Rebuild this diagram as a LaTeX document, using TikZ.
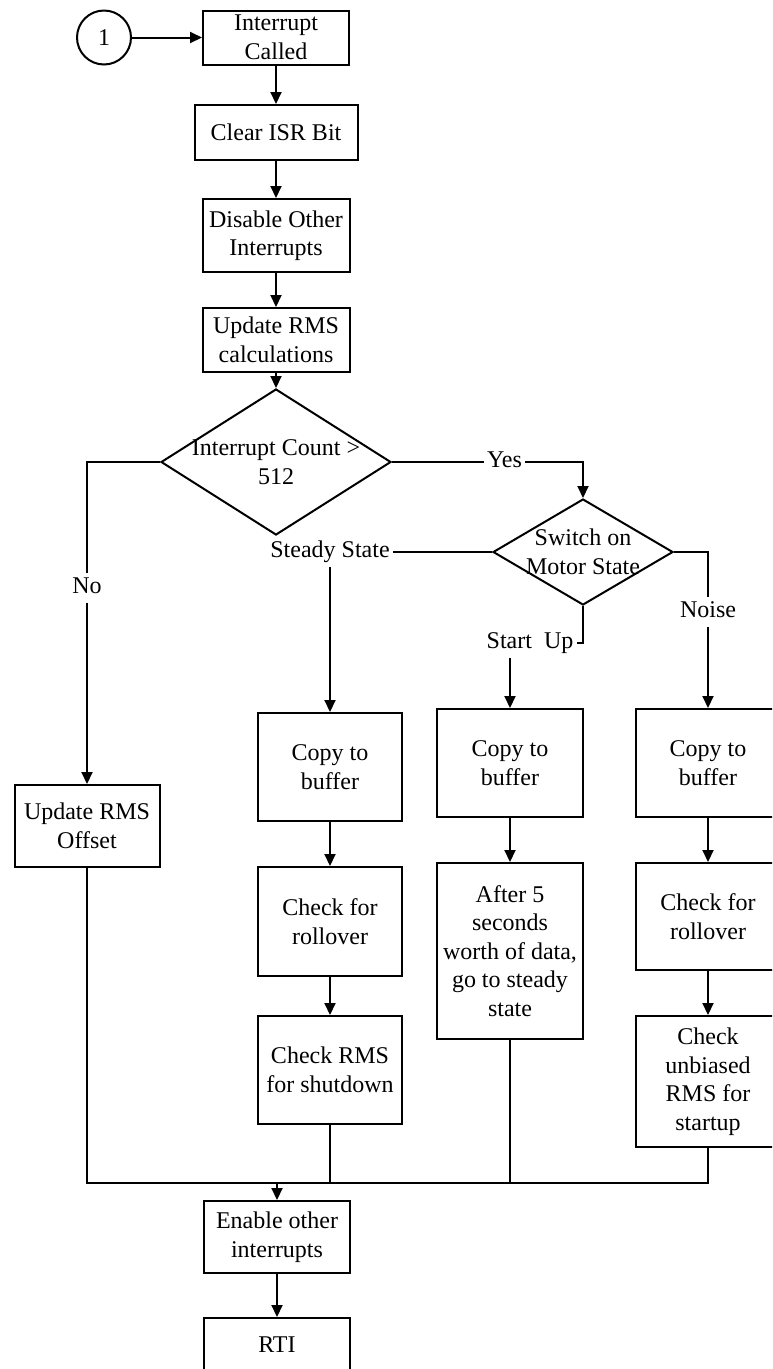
\documentclass[tikz,border=0pt]{standalone}
\usepackage{fontspec}
\setmainfont{Liberation Serif}
\usetikzlibrary{shapes.geometric,arrows.meta}
\begin{document}
\begin{tikzpicture}[x=1pt,y=-1pt,
  every node/.style={font=\fontsize{24}{28.5}\selectfont, text=black},
  box/.style={draw, line width=2pt, align=center, inner sep=0pt},
  dia/.style={draw, diamond, line width=2pt, inner sep=0pt},
  txt/.style={align=center, inner sep=0pt},
  lbl/.style={inner xsep=3pt, inner ysep=4pt, text height=16pt, text depth=5pt},
  conn/.style={line width=2pt},
  arr/.style={conn, -{Triangle[length=12pt,width=11pt]}},
]
\useasboundingbox (0,0) rectangle (772,1369);
\clip (0,0) rectangle (772,1369);
\fill[white] (0,0) rectangle (772,1369);

% main trunk
\node[draw, circle, line width=2pt, minimum size=54pt, inner sep=0pt] (c1) at (104,37.5) {1};
\node[box, minimum width=146pt, minimum height=54pt] (n1) at (276,37.5) {Interrupt\\Called};
\node[box, minimum width=163pt, minimum height=55pt] (n2) at (276,132.5) {Clear ISR Bit};
\node[box, minimum width=147pt, minimum height=73pt] (n3) at (276,235.5) {Disable Other\\Interrupts};
\node[box, minimum width=147pt, minimum height=64pt] (n4) at (276,340) {Update RMS\\calculations};

% decisions
\node[dia, minimum width=230pt, minimum height=146pt] (d1) at (276,462) {};
\node[txt] (d1t) at (d1.center) {Interrupt Count >\\512};
\node[dia, minimum width=180pt, minimum height=106pt] (d2) at (583,552) {};
\node[txt] (d2t) at (d2.center) {Switch on\\Motor State};

% branch labels
\node[lbl] (lno) at (87,588) {No};
\node[lbl] (lyes) at (504.5,462) {Yes};
\node[lbl] (lss) at (330,552) {Steady State};
\node[lbl] (lsu) at (530,643) {Start\ \ Up};
\node[lbl] (lnoise) at (708,612) {Noise};

% left branch
\node[box, minimum width=145pt, minimum height=82pt] (o1) at (87,826) {Update RMS\\Offset};

% steady state column
\node[box, minimum width=144pt, minimum height=108pt] (s1) at (330,767) {Copy to\\buffer};
\node[box, minimum width=144pt, minimum height=109pt] (s2) at (330,921.5) {Check for\\rollover};
\node[box, minimum width=144pt, minimum height=108pt] (s3) at (330,1070) {Check RMS\\for shutdown};

% start up column
\node[box, minimum width=146pt, minimum height=108pt] (m1) at (510,763) {Copy to\\buffer};
\node[box, minimum width=146pt, minimum height=176pt] (m2) at (510,951) {After 5\\seconds\\worth of data,\\go to steady\\state};

% noise column
\node[box, minimum width=144pt, minimum height=108pt] (r1) at (708,763) {Copy to\\buffer};
\node[box, minimum width=144pt, minimum height=107pt] (r2) at (708,916.5) {Check for\\rollover};
\node[box, minimum width=144pt, minimum height=131pt] (r3) at (708,1081.5) {Check\\unbiased\\RMS for\\startup};

% exit
\node[box, minimum width=146pt, minimum height=72pt] (e1) at (277,1237) {Enable other\\interrupts};
\node[box, minimum width=146pt, minimum height=54pt] (rti) at (277,1345) {RTI};

\coordinate (busL) at (87,1183);
\coordinate (busR) at (708,1183);

% connectors
\draw[arr] (c1.east) -- (n1.west);
\draw[arr] (n1.south) -- (n2.north);
\draw[arr] (n2.south) -- (n3.north);
\draw[arr] (n3.south) -- (n4.north);
\draw[arr] (n4.south) -- (d1.north);

\draw[conn] (d1.west) -| (lno.north);
\draw[arr] (lno.south) -- (o1.north);

\draw[conn] (d1.east) -- (lyes.west);
\draw[arr] (lyes.east) -| (d2.north);

\draw[conn] (d2.west) -- (lss.east);
\draw[arr] (lss.south) -- (s1.north);

\draw[conn] (d2.south) |- (lsu.east);
\draw[arr] (lsu.south -| m1.north) -- (m1.north);

\draw[conn] (d2.east) -| (lnoise.north);
\draw[arr] (lnoise.south) -- (r1.north);

\draw[arr] (s1.south) -- (s2.north);
\draw[arr] (s2.south) -- (s3.north);
\draw[arr] (m1.south) -- (m2.north);
\draw[arr] (r1.south) -- (r2.north);
\draw[arr] (r2.south) -- (r3.north);

\draw[conn] (o1.south) -- (busL) -- (busR) -- (r3.south);
\draw[conn] (s3.south) -- (s3.south |- busL);
\draw[conn] (m2.south) -- (m2.south |- busL);
\draw[arr] (e1.north |- busL) -- (e1.north);
\draw[arr] (e1.south) -- (rti.north);
\end{tikzpicture}
\end{document}
